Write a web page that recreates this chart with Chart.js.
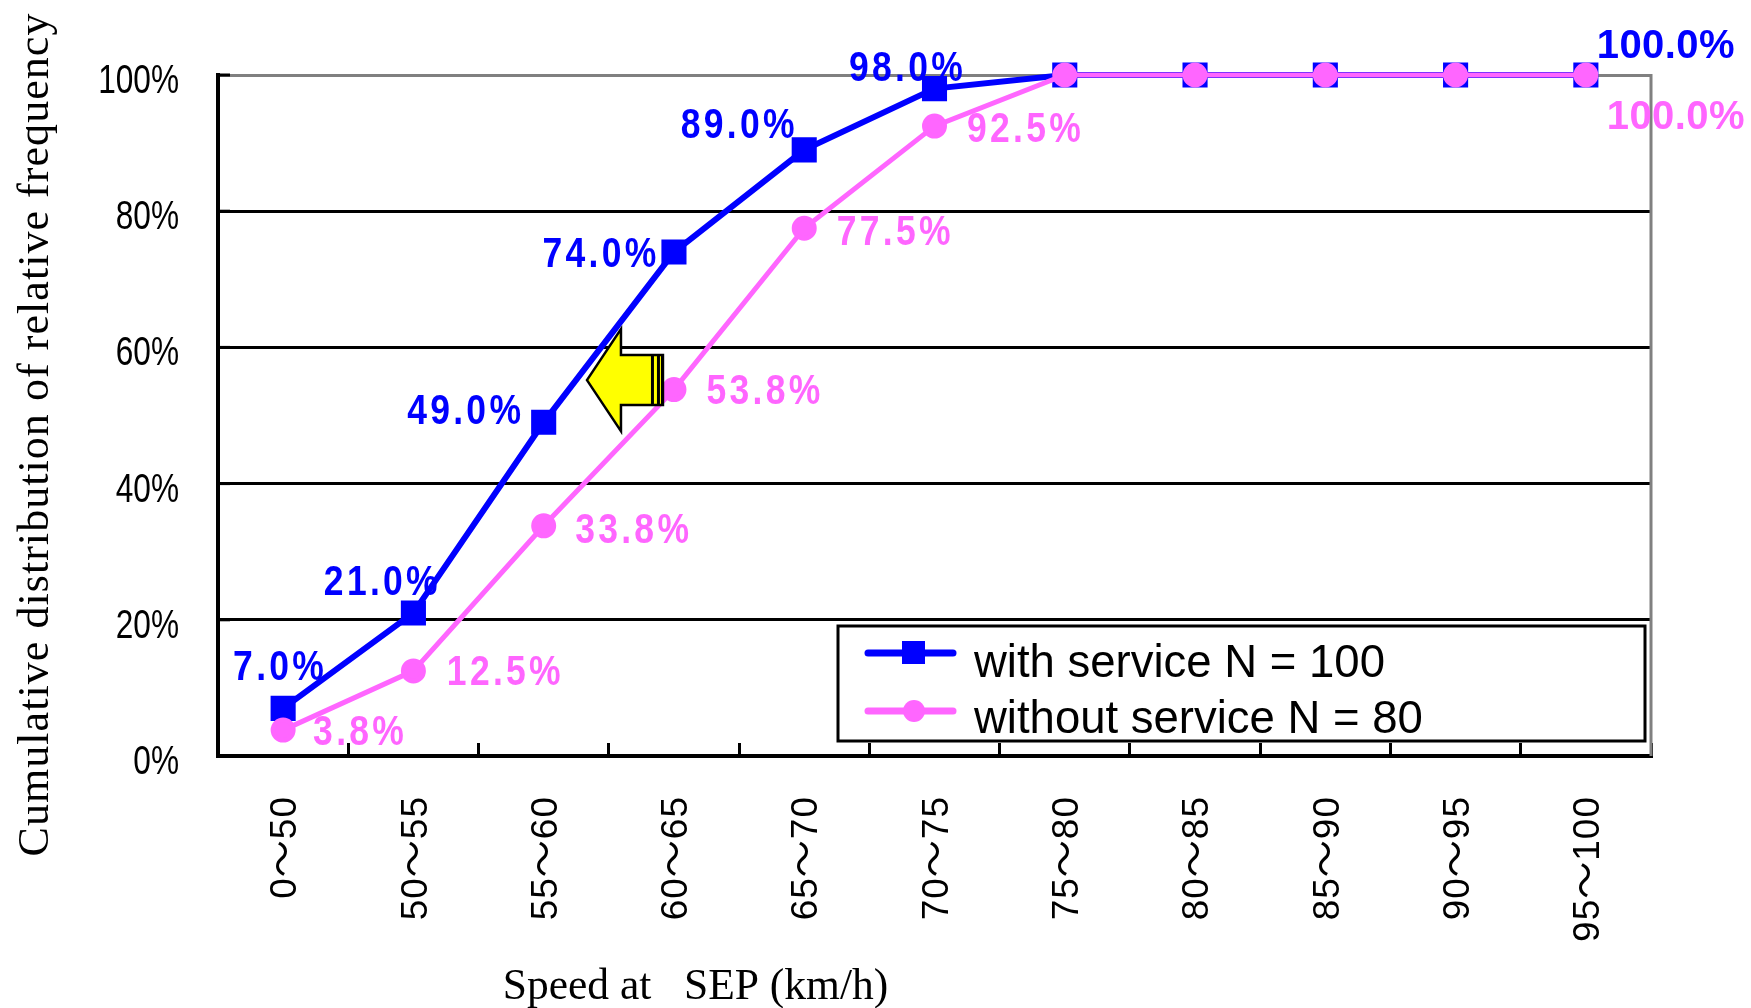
<!DOCTYPE html>
<html><head><meta charset="utf-8">
<style>html,body{margin:0;padding:0;background:#fff}#wrap{width:1751px;height:1008px}canvas{display:block}</style>
<script src="https://cdn.jsdelivr.net/npm/chart.js@4/dist/chart.umd.js"></script>
</head><body><div id="wrap"><canvas id="c" width="1751" height="1008"></canvas></div>
<script>
const categories = ['0～50','50～55','55～60','60～65','65～70','70～75','75～80','80～85','85～90','90～95','95～100'];
const withService = [7.0,21.0,49.0,74.0,89.0,98.0,100,100,100,100,100];
const withoutService = [3.8,12.5,33.8,53.8,77.5,92.5,100,100,100,100,100];
const withLabels = ['7.0%','21.0%','49.0%','74.0%','89.0%','98.0%',null,null,null,null,'100.0%'];
const withoutLabels = ['3.8%','12.5%','33.8%','53.8%','77.5%','92.5%',null,null,null,null,'100.0%'];
const withOffsets = [[-3,-40],[-31,-30],[-78,-10],[-73,3],[-65,-24],[-27,-19],null,null,null,null,[80,-28]];
const withoutOffsets = [[77,3],[92,2],[90,5],[91,3],[91,5],[91,4],null,null,null,null,[90,43]];
const seriesNames = ['with service N = 100','without service N = 80'];
const BLUE='#0000FF', PINK='#FF66FF', GREY='#808080';
const SANS='"Liberation Sans","Noto Sans CJK JP",sans-serif';

function wrap(scale, method, xf, spacing){
  const orig = scale[method];
  if (orig.__w) return;
  const f = function(){ const c=this.ctx; c.save(); xf(c); if(spacing) c.letterSpacing=spacing; orig.apply(this,arguments); c.restore(); };
  f.__w = true; scale[method] = f;
}
const overlay = {
  id:'overlay',
  beforeDraw(chart){
    const {x,y}=chart.scales;
    wrap(x,'drawLabels',c=>{c.translate(3,4);},'1px');
    wrap(y,'drawLabels',c=>{c.translate(179,7);c.scale(0.79,1);c.translate(-179,0);});
    wrap(x,'drawTitle',c=>c.translate(-239,6));
    wrap(y,'drawTitle',c=>c.translate(10,19),'1.05px');
  },
  afterDatasetsDraw(chart){
    const c=chart.ctx,{x,y}=chart.scales,a=chart.chartArea;
    c.save();
    c.strokeStyle=GREY;c.lineWidth=3;
    c.beginPath();c.moveTo(a.right,a.top-1);c.lineTo(a.right,a.bottom);c.stroke();
    c.strokeStyle='#000';
    y.ticks.forEach(t=>{const p=y.getPixelForValue(t.value);c.beginPath();c.moveTo(a.left,p);c.lineTo(a.left+12,p);c.stroke();});
    const draw=(vals,labels,offs,col)=>{
      labels.forEach((l,i)=>{
        if(!l)return;
        const wide=l.length>5;
        c.save();
        c.translate(x.getPixelForValue(i)+offs[i][0],y.getPixelForValue(vals[i])+offs[i][1]);
        if(!wide)c.scale(0.825,1);
        c.font=(wide?'bold 40px ':'bold 43px ')+SANS;
        c.letterSpacing=wide?'0.4px':'4px';
        c.fillStyle=col;c.textAlign='center';c.textBaseline='middle';
        c.fillText(l,0,0);
        c.restore();
      });
    };
    draw(withService,withLabels,withOffsets,BLUE);
    draw(withoutService,withoutLabels,withoutOffsets,PINK);
    // arrow between the curves
    const ax=x.getPixelForValue(3), ay=y.getPixelForValue(55.2);
    c.fillStyle='#FFFF00';c.strokeStyle='#000';c.lineWidth=2.5;c.lineJoin='miter';
    c.beginPath();
    c.moveTo(ax-87,ay);c.lineTo(ax-53,ay-51);c.lineTo(ax-53,ay-25);c.lineTo(ax-11,ay-25);
    c.lineTo(ax-11,ay+25);c.lineTo(ax-53,ay+25);c.lineTo(ax-53,ay+51);c.closePath();
    c.fill();c.stroke();
    c.fillStyle='#000';
    c.fillRect(ax-23,ay-25,3,50);c.fillRect(ax-17,ay-25,3,50);c.fillRect(ax-13,ay-25,3,50);
    // legend box
    c.fillStyle='#fff';c.fillRect(838,626,807,115);
    c.strokeStyle='#000';c.lineWidth=3;c.strokeRect(838,626,807,115);
    const rows=[[653,BLUE,'rect',664],[711,PINK,'circle',720]];
    rows.forEach((r,i)=>{
      c.strokeStyle=r[1];c.fillStyle=r[1];c.lineWidth=7;c.lineCap='round';
      c.beginPath();c.moveTo(868,r[0]);c.lineTo(953,r[0]);c.stroke();
      if(r[2]==='rect')c.fillRect(902,r[0]-12,23,23);
      else{c.beginPath();c.arc(914,r[0],11,0,7);c.fill();}
      c.fillStyle='#000';c.font='45.5px '+SANS;c.textAlign='left';c.textBaseline='middle';
      c.fillText(chart.data.datasets[i].label,974,r[3]);
    });
    c.restore();
  }
};
new Chart(document.getElementById('c'),{
  type:'line',
  plugins:[overlay],
  data:{labels:categories,datasets:[
    {label:seriesNames[0],data:withService,borderColor:BLUE,backgroundColor:BLUE,borderWidth:6,pointStyle:'rect',pointRadius:13.5,pointHoverRadius:13.5,tension:0,clip:false,order:2},
    {label:seriesNames[1],data:withoutService,borderColor:PINK,backgroundColor:PINK,borderWidth:5,pointStyle:'circle',pointRadius:10,pointHoverRadius:10,tension:0,clip:false,order:1}
  ]},
  options:{
    responsive:false,animation:false,
    layout:{padding:{left:0,right:100,top:75,bottom:0}},
    plugins:{legend:{display:false},title:{display:false},tooltip:{enabled:false}},
    scales:{
      x:{
        offset:true,
        grid:{offset:true,drawOnChartArea:false,color:'#000',lineWidth:3,tickLength:-13},
        border:{color:'#000',width:4},
        ticks:{autoSkip:false,minRotation:90,maxRotation:90,padding:49,color:'#000',font:{family:SANS,size:37}},
        title:{display:true,text:'Speed at   SEP (km/h)',color:'#000',font:{family:'"Liberation Serif"',size:43.5},padding:0},
        afterFit(s){s.height=252;}
      },
      y:{
        min:0,max:100,
        afterBuildTicks(s){s.ticks=[0,20,40,60,80,100].map(v=>({value:v}));},
        grid:{color:ctx=>ctx.tick&&ctx.tick.value===100?GREY:'#000',lineWidth:3,drawTicks:false},
        border:{color:'#000',width:4},
        ticks:{padding:39,color:'#000',font:{family:SANS,size:40},callback:v=>v+'%'},
        title:{display:true,text:'Cumulative distribution of relative frequency',color:'#000',font:{family:'"Liberation Serif"',size:44},padding:0},
        afterFit(s){s.width=218;}
      }
    }
  }
});
</script></body></html>
